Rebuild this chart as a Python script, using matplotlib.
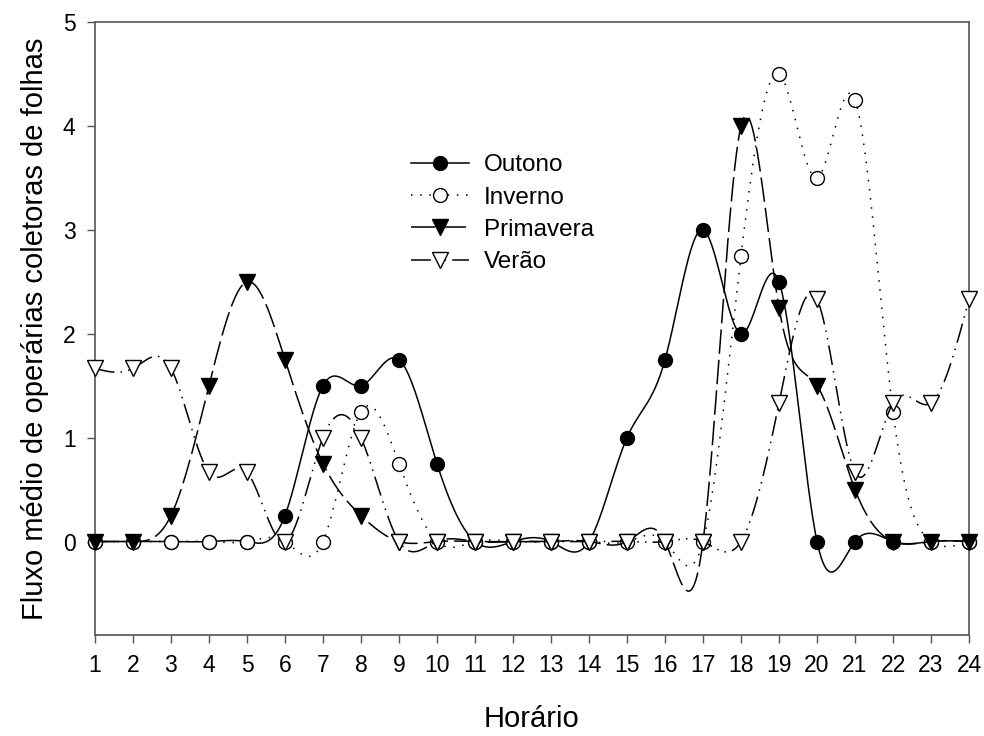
import numpy as np
import matplotlib
matplotlib.use("Agg")
import matplotlib.pyplot as plt
from matplotlib.lines import Line2D

plt.rcParams['font.family'] = ['Liberation Sans', 'DejaVu Sans']

hours = list(range(1, 25))
outono = [0, 0, 0, 0, 0, 0.25, 1.5, 1.5, 1.75, 0.75, 0, 0, 0, 0, 1.0, 1.75, 3.0, 2.0, 2.5, 0, 0, 0, 0, 0]
inverno = [0, 0, 0, 0, 0, 0, 0, 1.25, 0.75, 0, 0, 0, 0, 0, 0, 0, 0, 2.75, 4.5, 3.5, 4.25, 1.25, 0, 0]
primavera = [0, 0, 0.25, 1.5, 2.5, 1.75, 0.75, 0.25, 0, 0, 0, 0, 0, 0, 0, 0, 0, 4.0, 2.25, 1.5, 0.5, 0, 0, 0]
verao = [5/3, 5/3, 5/3, 2/3, 2/3, 0, 1.0, 1.0, 0, 0, 0, 0, 0, 0, 0, 0, 0, 0, 4/3, 7/3, 2/3, 4/3, 4/3, 7/3]
labels = ['Outono', 'Inverno', 'Primavera', 'Verão']
xlabel = 'Horário'
ylabel = 'Fluxo médio de operárias coletoras de folhas'


def natural_spline(x, y, xs):
    x = np.asarray(x, float)
    y = np.asarray(y, float)
    n = len(x)
    h = np.diff(x)
    A = np.zeros((n, n))
    b = np.zeros(n)
    A[0, 0] = 1
    A[-1, -1] = 1
    for i in range(1, n - 1):
        A[i, i - 1] = h[i - 1]
        A[i, i] = 2 * (h[i - 1] + h[i])
        A[i, i + 1] = h[i]
        b[i] = 6 * ((y[i + 1] - y[i]) / h[i] - (y[i] - y[i - 1]) / h[i - 1])
    M = np.linalg.solve(A, b)
    idx = np.clip(np.searchsorted(x, xs) - 1, 0, n - 2)
    x0 = x[idx]; x1 = x[idx + 1]; hh = x1 - x0
    t0 = x1 - xs; t1 = xs - x0
    return (M[idx] * t0 ** 3 / (6 * hh) + M[idx + 1] * t1 ** 3 / (6 * hh)
            + (y[idx] / hh - M[idx] * hh / 6) * t0
            + (y[idx + 1] / hh - M[idx + 1] * hh / 6) * t1)


fig = plt.figure(figsize=(9.84, 7.36), dpi=100)
ax = fig.add_axes([0.0965, 0.1372, 0.8883, 0.8328])

styles = [
    dict(ls='-', marker='o', mfc='black', ms=10),
    dict(ls=(0, (1, 5)), marker='o', mfc='white', ms=10),
    dict(ls=(0, (16, 4)), marker='v', mfc='black', ms=11),
    dict(ls=(0, (13, 4, 1, 4, 1, 4)), marker='v', mfc='white', ms=11),
]
series = [outono, inverno, primavera, verao]
xs = np.linspace(1, 24, 2000)
handles = []
for k, (vals, st) in enumerate(zip(series, styles)):
    ys = natural_spline(hours, vals, xs)
    ax.plot(xs, ys, color='black', lw=1.1, ls=st['ls'], zorder=2 + 2 * k, clip_on=False)
    ax.plot(hours, vals, ls='none', marker=st['marker'], mfc=st['mfc'], mec='black',
            mew=1.0, ms=st['ms'], zorder=3 + 2 * k, clip_on=False)
    handles.append(Line2D([], [], color='black', lw=1.1, ls=st['ls'], marker=st['marker'],
                          mfc=st['mfc'], mec='black', mew=1.0, ms=st['ms']))

ax.set_xlim(1, 24)
ax.set_ylim(-0.9, 5)
ax.set_xticks(hours)
ax.set_yticks([0, 1, 2, 3, 4, 5])
ax.tick_params(direction='out', length=6, width=1.0, color='#555555', labelsize=16.5, pad=8)
for sp in ax.spines.values():
    sp.set_color('#555555')
    sp.set_linewidth(1.2)

ax.set_xlabel(xlabel, fontsize=21, labelpad=20)
ax.set_ylabel(ylabel, fontsize=21, labelpad=10)

leg = ax.legend(handles, labels, loc='upper left', bbox_to_anchor=(0.35, 0.80), frameon=False,
                fontsize=17.5, handlelength=2.4, handletextpad=0.6, labelspacing=0.42,
                borderaxespad=0)

fig.savefig('out.png', dpi=100)
